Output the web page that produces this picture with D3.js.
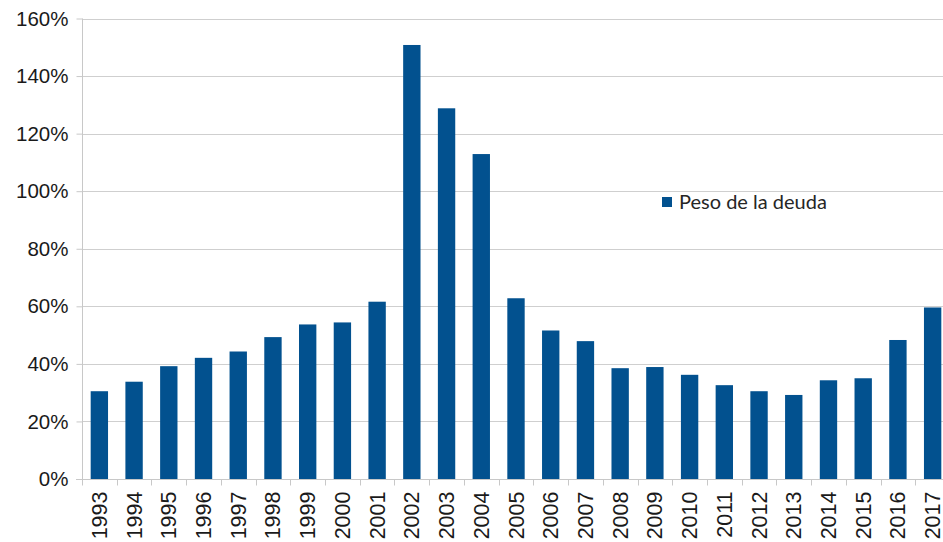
<!DOCTYPE html>
<html>
<head>
<meta charset="utf-8">
<script src="https://cdn.jsdelivr.net/npm/d3@7"></script>
<style>
  body { margin: 0; background: #fff; }
  svg { display: block; }
</style>
</head>
<body>
<div id="chart"></div>
<script>
// data
var years = ["1993","1994","1995","1996","1997","1998","1999","2000","2001","2002","2003","2004","2005",
             "2006","2007","2008","2009","2010","2011","2012","2013","2014","2015","2016","2017"];
var peso = [30.5, 33.8, 39.2, 42.1, 44.3, 49.3, 53.7, 54.4, 61.6, 150.8, 128.8, 112.9, 62.8,
            51.6, 47.9, 38.5, 38.9, 36.2, 32.6, 30.5, 29.2, 34.3, 35.0, 48.3, 59.6];
var yTicks = [0, 20, 40, 60, 80, 100, 120, 140, 160];
var seriesName = "Peso de la deuda";

var w = 943, h = 542;
var plotLeft = 82, plotTop = 18.5, plotBottom = 479;
var plotRight = 950; // plot runs a bit past the window edge in the original
var barColor = "#02518f";

var svg = d3.select("#chart").append("svg")
    .attr("width", w)
    .attr("height", h);

var xScale = d3.scaleBand()
    .domain(years)
    .range([plotLeft, plotRight])
    .paddingInner(0.5)
    .paddingOuter(0.25);

var yScale = d3.scaleLinear()
    .domain([0, 160])
    .range([plotBottom, plotTop]);

// gridlines
svg.append("g")
    .selectAll("line")
    .data(yTicks.filter(function(d) { return d > 0; }))
    .enter()
    .append("line")
    .attr("x1", plotLeft)
    .attr("x2", plotRight)
    .attr("y1", function(d) { return Math.round(yScale(d)) + 0.5; })
    .attr("y2", function(d) { return Math.round(yScale(d)) + 0.5; })
    .attr("stroke", "#cfcfcf")
    .attr("stroke-width", 1);

// bars
svg.append("g")
    .selectAll("rect")
    .data(peso)
    .enter()
    .append("rect")
    .attr("x", function(d, i) { return xScale(years[i]); })
    .attr("width", xScale.bandwidth())
    .attr("y", function(d) { return yScale(d); })
    .attr("height", function(d) { return plotBottom - yScale(d); })
    .attr("fill", barColor);

// y axis
var yAxis = d3.axisLeft(yScale)
    .tickValues(yTicks)
    .tickSize(6)
    .tickPadding(8)
    .tickFormat(function(d) { return d + "%"; });

var gy = svg.append("g")
    .attr("transform", "translate(" + (plotLeft + 0.5) + ",0)")
    .call(yAxis);
gy.select(".domain").attr("stroke", "#c8c8c8").attr("d", "M0," + plotTop + "V" + plotBottom);
gy.selectAll(".tick line").attr("stroke", "#c8c8c8");
gy.selectAll(".tick text")
    .attr("fill", "#1a1a1a")
    .style("font-family", "'Liberation Sans', Arial, sans-serif")
    .style("font-size", "20.5px");

// x axis: ticks between categories
var xAxis = d3.axisBottom(xScale)
    .tickSize(0)
    .tickPadding(0);

var gx = svg.append("g")
    .attr("transform", "translate(0," + (plotBottom + 0.5) + ")")
    .call(xAxis);
gx.select(".domain").attr("stroke", "#c8c8c8").attr("d", "M" + (plotLeft - 6) + ",0H" + plotRight);
gx.selectAll(".tick text")
    .attr("fill", "#1a1a1a")
    .style("font-family", "'Liberation Sans', Arial, sans-serif")
    .style("font-size", "21.5px")
    .attr("text-anchor", "end")
    .attr("dy", "0.35em")
    .attr("transform", "translate(0,12) rotate(-90)");

// separators between categories
var step = xScale.step();
gx.append("g")
    .selectAll("line")
    .data(years)
    .enter()
    .append("line")
    .attr("x1", function(d) { return Math.round(xScale(d) - step * 0.25) + 0.5; })
    .attr("x2", function(d) { return Math.round(xScale(d) - step * 0.25) + 0.5; })
    .attr("y1", 0)
    .attr("y2", 6)
    .attr("stroke", "#c8c8c8");

// legend
var legend = svg.append("g").attr("transform", "translate(662,197)");
legend.append("rect")
    .attr("width", 10)
    .attr("height", 10)
    .attr("fill", barColor);
legend.append("text")
    .attr("x", 17)
    .attr("y", 5)
    .attr("dy", "0.35em")
    .attr("fill", "#262626")
    .style("font-family", "Lato, 'Open Sans', sans-serif")
    .style("font-size", "20px")
    .text(seriesName);
</script>
</body>
</html>
